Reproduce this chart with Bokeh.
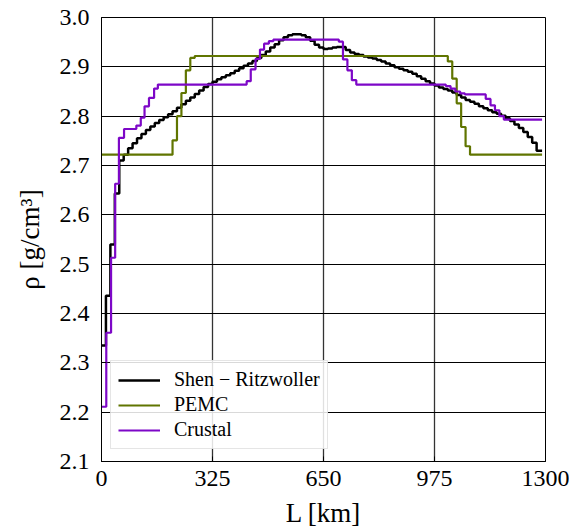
from bokeh.plotting import figure
from bokeh.models import FixedTicker, PrintfTickFormatter, Range1d
from bokeh.embed import file_html
from bokeh.resources import INLINE

# ---- data ----
# Shen-Ritzwoller: layer tops (km) and density (g/cm^3); final value is the end point
sr_L = [13 * i for i in range(99)] + [1290]
sr_rho = [2.335, 2.436, 2.540, 2.643, 2.710, 2.722, 2.735, 2.745, 2.755, 2.764,
          2.772, 2.779, 2.786, 2.792, 2.798, 2.804, 2.810, 2.817, 2.824, 2.831,
          2.838, 2.845, 2.852, 2.859, 2.865, 2.870, 2.875, 2.879, 2.883, 2.887,
          2.892, 2.897, 2.902, 2.907, 2.912, 2.918, 2.924, 2.931, 2.939, 2.946,
          2.954, 2.960, 2.964, 2.966, 2.966, 2.964, 2.960, 2.953, 2.945, 2.939,
          2.936, 2.937, 2.939, 2.940, 2.940, 2.934, 2.929, 2.926, 2.924, 2.921,
          2.919, 2.917, 2.914, 2.911, 2.907, 2.903, 2.899, 2.896, 2.893, 2.890,
          2.886, 2.881, 2.876, 2.871, 2.866, 2.862, 2.858, 2.855, 2.852, 2.848,
          2.843, 2.838, 2.833, 2.829, 2.825, 2.820, 2.816, 2.812, 2.808, 2.805,
          2.801, 2.796, 2.790, 2.783, 2.776, 2.768, 2.758, 2.746, 2.730]
sr_rho = sr_rho + [sr_rho[-1]]

pemc_L = [0, 208, 221, 234, 247, 260, 273, 1014, 1027, 1040, 1053, 1066, 1079, 1290]
pemc_rho = [2.722, 2.751, 2.800, 2.847, 2.893, 2.918, 2.922, 2.911, 2.876, 2.826,
            2.778, 2.739, 2.722, 2.722]

crust_L = [0, 14, 28, 40, 51, 66, 102, 115, 126, 139, 154, 165, 425, 437, 451, 464,
           476, 490, 503, 695, 707, 720, 733, 746, 759, 1008, 1022, 1036, 1050,
           1064, 1125, 1139, 1152, 1165, 1178, 1290]
crust_rho = [2.211, 2.361, 2.513, 2.663, 2.756, 2.774, 2.781, 2.797, 2.820, 2.837,
             2.856, 2.864, 2.871, 2.895, 2.916, 2.935, 2.947, 2.952, 2.955, 2.951,
             2.915, 2.893, 2.873, 2.864, 2.864, 2.861, 2.856, 2.850, 2.846, 2.844,
             2.835, 2.822, 2.812, 2.800, 2.793, 2.793]

x_ticks = [0, 325, 650, 975, 1300]
y_ticks = [2.1, 2.2, 2.3, 2.4, 2.5, 2.6, 2.7, 2.8, 2.9, 3.0]

FONT = "Liberation Serif"

p = figure(frame_width=444, frame_height=444,
           x_range=Range1d(0, 1300), y_range=Range1d(2.1, 3.0),
           output_backend="svg", toolbar_location=None,
           min_border_left=101, min_border_top=17, min_border_right=24,
           min_border_bottom=64)

p.outline_line_color = "black"
p.outline_line_width = 1
p.background_fill_color = "white"
p.border_fill_color = "white"

p.xaxis.ticker = FixedTicker(ticks=x_ticks)
p.yaxis.ticker = FixedTicker(ticks=y_ticks)
p.yaxis.formatter = PrintfTickFormatter(format="%.1f")

for ax in (p.xaxis, p.yaxis):
    ax.major_tick_in = 5
    ax.major_tick_out = 0
    ax.minor_tick_in = 0
    ax.minor_tick_out = 0
    ax.axis_line_color = "black"
    ax.major_tick_line_color = "black"
    ax.major_label_text_font = FONT
    ax.major_label_text_font_size = "24px"
    ax.major_label_text_color = "black"
    ax.axis_label_text_font = FONT
    ax.axis_label_text_font_size = "27px"
    ax.axis_label_text_font_style = "normal"
    ax.axis_label_text_color = "black"

p.xaxis.major_label_standoff = 9
p.yaxis.major_label_standoff = 12
p.xaxis.axis_label_standoff = 9
p.yaxis.axis_label_standoff = 12
p.xaxis.axis_label = "L [km]"
p.yaxis.axis_label = "ρ [g/cm³]"

p.xgrid.grid_line_color = "#333333"
p.xgrid.grid_line_width = 1.3
p.ygrid.grid_line_color = "black"
p.ygrid.grid_line_width = 1

p.step(sr_L, sr_rho, mode="after", line_color="black", line_width=2.5,
       legend_label="Shen − Ritzwoller")
p.step(pemc_L, pemc_rho, mode="after", line_color="#607500", line_width=2.2,
       legend_label="PEMC")
p.step(crust_L, crust_rho, mode="after", line_color="#7d07c7", line_width=2.2,
       legend_label="Crustal")

lg = p.legend[0]
lg.location = (9, 12)
lg.label_text_font = FONT
lg.label_text_font_size = "20px"
lg.label_text_color = "black"
lg.glyph_width = 42
lg.glyph_height = 20
lg.label_height = 20
lg.label_standoff = 14
lg.padding = 7
lg.spacing = 2
lg.margin = 0
lg.border_line_color = "#cccccc"
lg.border_line_width = 1
lg.background_fill_color = "white"
lg.background_fill_alpha = 0.85

open("out.html", "w").write(file_html(p, INLINE))
